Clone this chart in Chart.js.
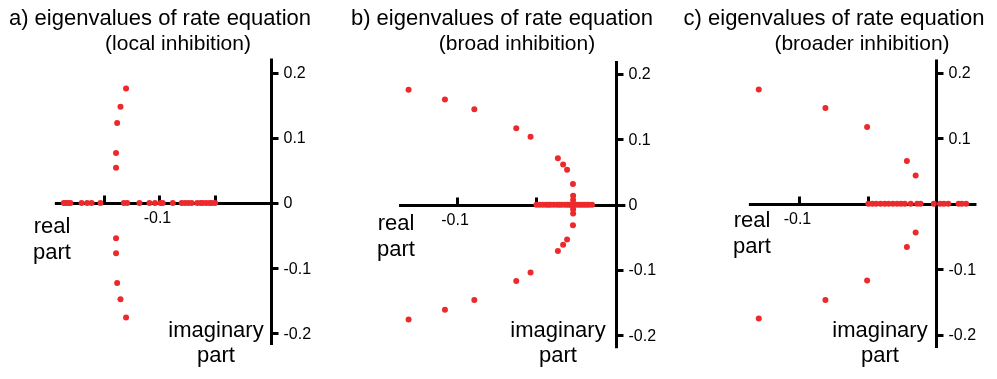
<!DOCTYPE html>
<html>
<head>
<meta charset="utf-8">
<script src="https://cdn.jsdelivr.net/npm/chart.js@4.4.0/dist/chart.umd.min.js"></script>
<style>
  body { margin: 0; background: #fff; }
  #wrap { position: relative; width: 997px; height: 379px; }
  canvas { position: absolute; top: 0; }
</style>
</head>
<body>
<div id="wrap">
  <canvas id="chartA" width="332" height="379" style="left:0px"></canvas>
  <canvas id="chartB" width="332" height="379" style="left:332px"></canvas>
  <canvas id="chartC" width="333" height="379" style="left:664px"></canvas>
</div>
<script>
// Tick values / labels shared by the three panels
const imagTicks = [0.2, 0.1, 0, -0.1, -0.2];
const imagTickLabels = ["0.2", "0.1", "0", "-0.1", "-0.2"];
const realTickLabelValue = -0.1;
const realTickLabel = "-0.1";

// a) local inhibition
const titleA = ["a) eigenvalues of rate equation", "(local inhibition)"];
const realTicksA = [-0.15, -0.1, -0.05];
const realOnlyA = [-0.186, -0.184, -0.182, -0.180, -0.170, -0.165, -0.161, -0.153,
  -0.132, -0.129, -0.118, -0.109, -0.104, -0.099, -0.097, -0.088, -0.080, -0.077,
  -0.074, -0.071, -0.066, -0.063, -0.061, -0.058, -0.055, -0.053, -0.050];
const complexReA = [-0.130, -0.135, -0.138, -0.139, -0.139, -0.139, -0.139, -0.138, -0.135, -0.130];
const complexImA = [0.176, 0.148, 0.123, 0.077, 0.054, -0.054, -0.077, -0.123, -0.148, -0.176];

// b) broad inhibition
const titleB = ["b) eigenvalues of rate equation", "(broad inhibition)"];
const realTicksB = [-0.1, -0.05];
const realOnlyB = [-0.050, -0.048, -0.046, -0.044, -0.0425, -0.041, -0.039, -0.037,
  -0.0355, -0.034, -0.032, -0.0305, -0.029, -0.028, -0.027, -0.026, -0.0245, -0.023,
  -0.0215, -0.020, -0.0185, -0.017, -0.015];
const complexReB = [-0.1305, -0.1076, -0.0891, -0.0627, -0.0537, -0.0365, -0.0332, -0.0307, -0.0270, -0.0269, -0.0269,
  -0.0269, -0.0269, -0.0270, -0.0307, -0.0332, -0.0365, -0.0537, -0.0627, -0.0891, -0.1076, -0.1305];
const complexImB = [0.176, 0.161, 0.146, 0.117, 0.104, 0.071, 0.0615, 0.0535, 0.0315, 0.0135, 0.007,
  -0.007, -0.0135, -0.0315, -0.0535, -0.0615, -0.071, -0.104, -0.117, -0.146, -0.161, -0.176];

// c) broader inhibition
const titleC = ["c) eigenvalues of rate equation", "(broader inhibition)"];
const realTicksC = [-0.1, -0.05];
const realOnlyC = [-0.0496, -0.0467, -0.0439, -0.0407, -0.0376, -0.0348, -0.0317, -0.0286,
  -0.0257, -0.0229, -0.0186, -0.0139, -0.0114, -0.0017, 0.0029, 0.0057, 0.0088,
  0.0164, 0.0188, 0.0219];
const complexReC = [-0.1298, -0.081, -0.0505, -0.0214, -0.015, -0.015, -0.0214, -0.0505, -0.081, -0.1298];
const complexImC = [0.174, 0.146, 0.117, 0.065, 0.043, -0.044, -0.066, -0.117, -0.147, -0.175];

const RED = "#ec2a2c";
const FONT = "Liberation Sans, Arial, Helvetica, sans-serif";

// Draws the cross-shaped axes through the origin, their ticks and all texts
const crossAxes = {
  id: "crossAxes",
  beforeDatasetsDraw(chart, args, o) {
    const { ctx, scales: { x, y } } = chart;
    const x0 = Math.round(x.getPixelForValue(0)) + 0.5;
    const y0 = Math.round(y.getPixelForValue(0)) + 0.5;
    ctx.save();
    ctx.strokeStyle = "#000";
    ctx.lineWidth = 3;
    ctx.beginPath();
    ctx.moveTo(x.getPixelForValue(o.realRange[0]), y0);
    ctx.lineTo(x.getPixelForValue(o.realRange[1]), y0);
    ctx.moveTo(x0, y.getPixelForValue(o.imagRange[0]));
    ctx.lineTo(x0, y.getPixelForValue(o.imagRange[1]));
    o.realTicks.forEach(v => {
      const px = Math.round(x.getPixelForValue(v)) + 0.5;
      ctx.moveTo(px, y0);
      ctx.lineTo(px, y0 - 8);
    });
    imagTicks.forEach(v => {
      const py = Math.round(y.getPixelForValue(v)) + 0.5;
      ctx.moveTo(x0, py);
      ctx.lineTo(x0 + 7, py);
    });
    ctx.stroke();

    ctx.fillStyle = "#000";
    ctx.font = "16px " + FONT;
    ctx.textAlign = "left";
    ctx.textBaseline = "middle";
    imagTicks.forEach((v, i) => {
      // in panel c the zero label is hidden under the eigenvalues right of the axis
      if (v === 0 && o.hideZero) return;
      ctx.fillText(imagTickLabels[i], x0 + 12, y.getPixelForValue(v) + 1);
    });
    ctx.textAlign = "center";
    ctx.textBaseline = "alphabetic";
    ctx.fillText(realTickLabel, x.getPixelForValue(realTickLabelValue) - 2, y0 + 19);

    ctx.font = "22px " + FONT;
    ctx.fillText(o.title[0], o.titlePos[0], 25);
    ctx.fillText("real", o.realLabel[0], o.realLabel[1]);
    ctx.fillText("part", o.realLabel[0], o.realLabel[1] + 26);
    ctx.fillText("imaginary", o.imagLabel[0], o.imagLabel[1]);
    ctx.fillText("part", o.imagLabel[0], o.imagLabel[1] + 25);
    ctx.font = "21px " + FONT;
    ctx.fillText(o.title[1], o.titlePos[1], 50);
    ctx.restore();
  }
};

function makePanel(id, realOnly, cRe, cIm, range, axes) {
  const pts = realOnly.map(v => ({ x: v, y: 0 }))
    .concat(cRe.map((v, i) => ({ x: v, y: cIm[i] })));
  new Chart(document.getElementById(id), {
    type: "scatter",
    data: {
      datasets: [{
        data: pts,
        pointRadius: 3,
        pointBorderWidth: 0,
        pointBackgroundColor: RED,
        pointBorderColor: RED,
        clip: false
      }]
    },
    options: {
      responsive: false,
      animation: false,
      events: [],
      layout: { padding: 0 },
      scales: {
        x: { type: "linear", display: false, min: range[0], max: range[1] },
        y: { type: "linear", display: false, min: range[2], max: range[3] }
      },
      plugins: {
        legend: { display: false },
        tooltip: { enabled: false },
        crossAxes: axes
      }
    },
    plugins: [crossAxes]
  });
}

makePanel("chartA", realOnlyA, complexReA, complexImA,
  [-0.2397, 0.0515, -0.2642, 0.3057],
  { realRange: [-0.194, 0.006], imagRange: [-0.218, 0.222], realTicks: realTicksA,
    title: titleA, titlePos: [160, 178], realLabel: [52, 233], imagLabel: [216, 337] });

makePanel("chartB", realOnlyB, complexReB, complexImB,
  [-0.1762, 0.0278, -0.2609, 0.3073],
  { realRange: [-0.1365, 0.006], imagRange: [-0.22, 0.22], realTicks: realTicksB,
    title: titleB, titlePos: [170, 185], realLabel: [64, 230], imagLabel: [226, 337] });

makePanel("chartC", realOnlyC, complexReC, complexImC,
  [-0.1962, 0.0416, -0.2612, 0.3045],
  { realRange: [-0.137, 0.0295], imagRange: [-0.22, 0.22], realTicks: realTicksC, hideZero: true,
    title: titleC, titlePos: [170, 198], realLabel: [88, 227], imagLabel: [216, 337] });
</script>
</body>
</html>
